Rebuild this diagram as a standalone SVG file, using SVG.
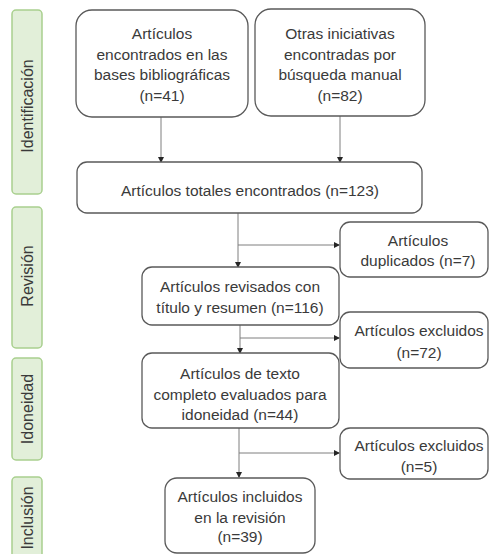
<svg xmlns="http://www.w3.org/2000/svg" width="490" height="554" viewBox="0 0 490 554">
<defs>
<marker id="ah" markerWidth="6" markerHeight="6" refX="5" refY="3" orient="auto" markerUnits="userSpaceOnUse">
<path d="M0,0 L6,3 L0,6 Z" fill="#262626"/>
</marker>
<style>
.box{fill:#fff;stroke:#595959;stroke-width:1.3}
.side{fill:#e2efd9;stroke:#a9d08e;stroke-width:1.5}
.t{font-family:"Liberation Sans",Arial,sans-serif;font-size:15.5px;fill:#3a3a3a;text-anchor:middle}
.st{font-family:"Liberation Sans",Arial,sans-serif;font-size:16px;fill:#3a3a3a;text-anchor:middle}
.ln{fill:none;stroke:#7f7f7f;stroke-width:1}
</style>
</defs>
<rect width="490" height="554" fill="#fff"/>
<g id="side-identificacion"><rect class="side" x="12" y="10" width="30" height="184" rx="4"/><text class="st" transform="translate(33,106) rotate(-90)">Identificación</text></g>
<g id="side-revision"><rect class="side" x="12" y="207" width="30" height="141" rx="4"/><text class="st" transform="translate(33,276) rotate(-90)">Revisión</text></g>
<g id="side-idoneidad"><rect class="side" x="12" y="358" width="30" height="102" rx="4"/><text class="st" transform="translate(33,409) rotate(-90)">Idoneidad</text></g>
<g id="side-inclusion"><rect class="side" x="12" y="477" width="30" height="84" rx="4"/><text class="st" transform="translate(33,518) rotate(-90)">Inclusión</text></g>

<g id="connectors">
<line class="ln" x1="161" y1="117" x2="161" y2="162" marker-end="url(#ah)"/>
<line class="ln" x1="340" y1="116" x2="340" y2="162" marker-end="url(#ah)"/>
<line class="ln" x1="238" y1="213" x2="238" y2="267" marker-end="url(#ah)"/>
<line class="ln" x1="238" y1="245" x2="339" y2="245" marker-end="url(#ah)"/>
<line class="ln" x1="240" y1="325" x2="240" y2="353" marker-end="url(#ah)"/>
<line class="ln" x1="240" y1="338" x2="339" y2="338" marker-end="url(#ah)"/>
<line class="ln" x1="239" y1="428" x2="239" y2="477" marker-end="url(#ah)"/>
<line class="ln" x1="239" y1="453" x2="339" y2="453" marker-end="url(#ah)"/>
</g>

<g id="n-bases"><rect class="box" x="76" y="10" width="172" height="107" rx="16"/>
<text class="t" x="162" y="39">Artículos</text><text class="t" x="162" y="60">encontrados en las</text><text class="t" x="162" y="80">bases bibliográficas</text><text class="t" x="162" y="101">(n=41)</text></g>
<g id="n-manual"><rect class="box" x="255" y="9" width="170" height="107" rx="16"/>
<text class="t" x="340" y="39">Otras iniciativas</text><text class="t" x="340" y="60">encontradas por</text><text class="t" x="340" y="80">búsqueda manual</text><text class="t" x="340" y="101">(n=82)</text></g>
<g id="n-total"><rect class="box" x="77" y="162" width="345" height="51" rx="10"/>
<text class="t" x="250" y="196">Artículos totales encontrados (n=123)</text></g>
<g id="n-duplicados"><rect class="box" x="340" y="222" width="148" height="55" rx="10"/>
<text class="t" x="418" y="246">Artículos</text><text class="t" x="418" y="266">duplicados (n=7)</text></g>
<g id="n-revisados"><rect class="box" x="142" y="267" width="197" height="58" rx="10"/>
<text class="t" x="240" y="292">Artículos revisados con</text><text class="t" x="240" y="313">título y resumen (n=116)</text></g>
<g id="n-excl72"><rect class="box" x="340" y="312" width="148" height="56" rx="10"/>
<text class="t" x="419" y="336">Artículos excluidos</text><text class="t" x="419" y="358">(n=72)</text></g>
<g id="n-texto"><rect class="box" x="142" y="353" width="197" height="75" rx="10"/>
<text class="t" x="240" y="379">Artículos de texto</text><text class="t" x="240" y="400">completo evaluados para</text><text class="t" x="240" y="420">idoneidad (n=44)</text></g>
<g id="n-excl5"><rect class="box" x="340" y="428" width="148" height="51" rx="10"/>
<text class="t" x="419" y="451">Artículos excluidos</text><text class="t" x="419" y="472">(n=5)</text></g>
<g id="n-incluidos"><rect class="box" x="165" y="478" width="150" height="75" rx="12"/>
<text class="t" x="240" y="502">Artículos incluidos</text><text class="t" x="240" y="523">en la revisión</text><text class="t" x="240" y="542">(n=39)</text></g>
</svg>
